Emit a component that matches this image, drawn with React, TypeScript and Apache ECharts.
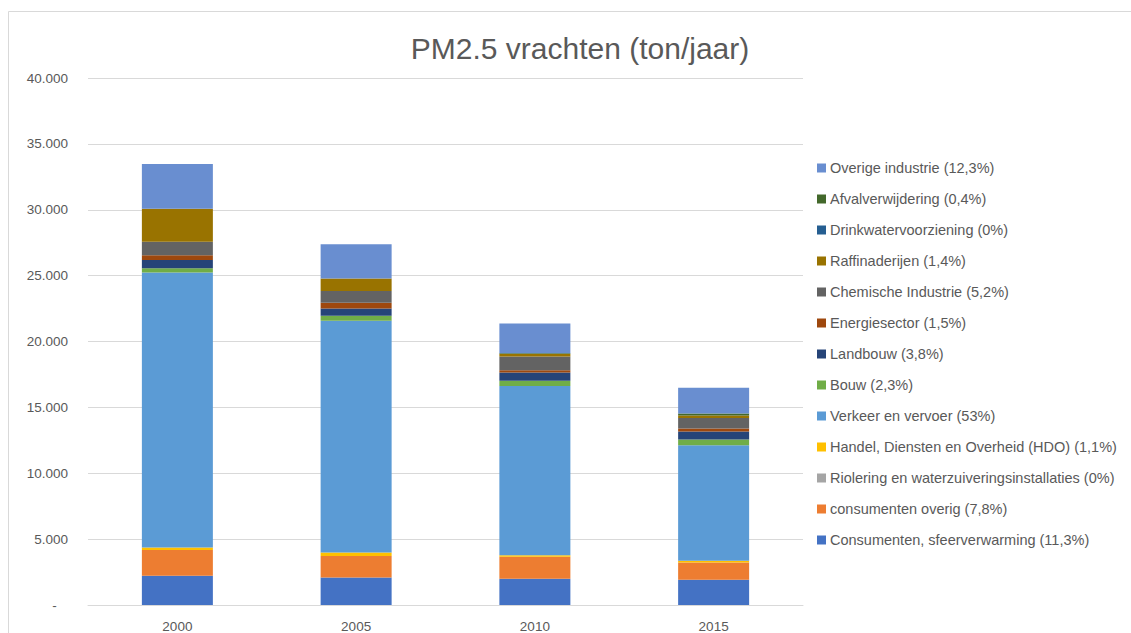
import React, { useEffect, useRef } from "react";
import * as echarts from "echarts";

const categories = ["2000", "2005", "2010", "2015"];
const yTicks = { min: 0, max: 40000, interval: 5000 };

// bottom-to-top stacking order
const seriesNames = [
  "Consumenten, sfeerverwarming (11,3%)",
  "consumenten overig (7,8%)",
  "Riolering en waterzuiveringsinstallaties (0%)",
  "Handel, Diensten en Overheid (HDO) (1,1%)",
  "Verkeer en vervoer (53%)",
  "Bouw (2,3%)",
  "Landbouw (3,8%)",
  "Energiesector (1,5%)",
  "Chemische Industrie (5,2%)",
  "Raffinaderijen (1,4%)",
  "Drinkwatervoorziening (0%)",
  "Afvalverwijdering (0,4%)",
  "Overige industrie (12,3%)",
];

const consSfeer = [2215, 2095, 1990, 1915];
const consOverig = [1966, 1633, 1663, 1315];
const riolering = [0, 0, 0, 0];
const handel = [180, 255, 130, 120];
const verkeer = [20870, 17590, 12830, 8770];
const bouw = [330, 378, 400, 450];
const landbouw = [630, 560, 630, 605];
const energie = [350, 423, 180, 227];
const chemisch = [1035, 907, 1030, 786];
const raffinaderijen = [2495, 938, 200, 200];
const drinkwater = [0, 0, 0, 0];
const afval = [0, 0, 60, 150];
const overige = [3400, 2594, 2250, 1943];

const seriesValues = [
  consSfeer,
  consOverig,
  riolering,
  handel,
  verkeer,
  bouw,
  landbouw,
  energie,
  chemisch,
  raffinaderijen,
  drinkwater,
  afval,
  overige,
];

const colors = [
  "#4472C4",
  "#ED7D31",
  "#A5A5A5",
  "#FFC000",
  "#5B9BD5",
  "#70AD47",
  "#264478",
  "#9E480E",
  "#636363",
  "#997300",
  "#255E91",
  "#43682B",
  "#698ED0",
];

const FONT = "Liberation Sans";
const TXT = "#595959";

function fmt(v: number): string {
  if (v === 0) return "-   ";
  const s = String(Math.round(v));
  return s.replace(/\B(?=(\d{3})+(?!\d))/g, ".");
}

export default function App() {
  const ref = useRef<HTMLDivElement>(null);
  useEffect(() => {
    if (!ref.current) return;
    const chart = echarts.init(ref.current, undefined, { renderer: "svg" });
    chart.setOption({
      animation: false,
      backgroundColor: "#ffffff",
      color: colors,
      title: {
        text: "PM2.5 vrachten (ton/jaar)",
        left: 575,
        textAlign: "center",
        top: 28,
        textStyle: {
          fontFamily: FONT,
          fontSize: 30,
          fontWeight: "normal",
          color: TXT,
        },
      },
      graphic: [
        {
          type: "rect",
          shape: { x: 8.5, y: 11.5, width: 1200, height: 700 },
          style: { fill: "none", stroke: "#d9d9d9", lineWidth: 1 },
          silent: true,
        },
      ],
      legend: {
        orient: "vertical",
        left: 817,
        top: 160,
        padding: 0,
        itemWidth: 9,
        itemHeight: 9,
        itemGap: 15,
        icon: "rect",
        data: seriesNames.slice().reverse(),
        textStyle: {
          fontFamily: FONT,
          fontSize: 14.5,
          color: TXT,
          lineHeight: 16,
          padding: [0, 0, 0, -1],
        },
      },
      grid: { left: 88, right: 328, top: 78, bottom: 26 },
      xAxis: {
        type: "category",
        data: categories,
        axisLine: { lineStyle: { color: "#d9d9d9" } },
        axisTick: { show: false },
        axisLabel: {
          fontFamily: FONT,
          fontSize: 13.5,
          color: TXT,
          margin: 14,
        },
      },
      yAxis: {
        type: "value",
        min: yTicks.min,
        max: yTicks.max,
        interval: yTicks.interval,
        axisLine: { show: false },
        axisTick: { show: false },
        splitLine: { lineStyle: { color: "#d9d9d9", width: 1 } },
        axisLabel: {
          fontFamily: FONT,
          fontSize: 13.5,
          color: TXT,
          margin: 20,
          formatter: (v: number) => fmt(v),
        },
      },
      series: seriesNames.map((name, i) => ({
        name,
        type: "bar",
        stack: "total",
        barWidth: 71,
        data: seriesValues[i],
        itemStyle: { color: colors[i] },
      })),
    });
    return () => chart.dispose();
  }, []);
  return (
    <div
      ref={ref}
      style={{ position: "fixed", left: 0, top: 0, width: 1131, height: 633 }}
    />
  );
}
